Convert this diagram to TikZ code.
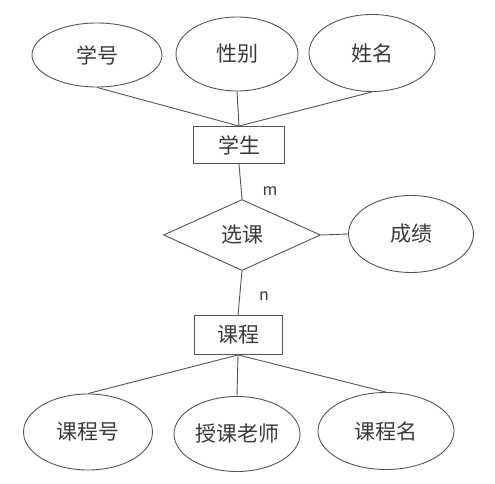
\documentclass[tikz,border=0pt]{standalone}
\usepackage{fontspec}
\newfontfamily\cjk{Noto Sans CJK SC}
\usetikzlibrary{shapes.geometric}
\definecolor{lc}{HTML}{555555}
\definecolor{tc}{HTML}{3A3A3A}
\tikzset{
  attr/.style={ellipse, draw=lc, line width=0.9pt, inner sep=0pt, text=tc, font=\cjk\fontsize{21}{21}\selectfont},
  ent/.style={rectangle, draw=lc, line width=0.9pt, inner sep=0pt, text=tc, font=\cjk\fontsize{21}{21}\selectfont},
  rel/.style={diamond, draw=lc, line width=0.9pt, inner sep=0pt, text=tc, font=\cjk\fontsize{21}{21}\selectfont},
  conn/.style={draw=lc, line width=0.9pt},
  card/.style={text=tc, font=\cjk\fontsize{16}{16}\selectfont, inner sep=0pt}
}
\begin{document}
\begin{tikzpicture}[x=1pt,y=-1pt]
\useasboundingbox[fill=white] (0,0) rectangle (495,484);
\node[attr, minimum width=130pt, minimum height=64pt] (xh) at (97,55) {学号};
\node[attr, minimum width=122pt, minimum height=74pt] (xb) at (237,54) {性别};
\node[attr, minimum width=126pt, minimum height=77pt] (xm) at (372,53) {姓名};
\node[ent, minimum width=91pt, minimum height=37pt] (xs) at (239,145) {学生};
\node[rel, minimum width=157pt, minimum height=71pt] (xk) at (242,235) {选课};
\node[attr, minimum width=125pt, minimum height=77pt] (cj) at (411,234) {成绩};
\node[ent, minimum width=88pt, minimum height=39pt] (kc) at (238,335) {课程};
\node[attr, minimum width=129pt, minimum height=76pt] (kch) at (88,432) {课程号};
\node[attr, minimum width=126pt, minimum height=75pt] (skls) at (237,434) {授课老师};
\node[attr, minimum width=136pt, minimum height=77pt] (kcm) at (386,431) {课程名};
\node[card] (m) at (270,191) {m};
\node[card] (n) at (264,296) {n};
\draw[conn] (xh.south) -- (xs.north);
\draw[conn] (xb.south) -- (xs.north);
\draw[conn] (xm.south) -- (xs.north);
\draw[conn] (xs.south) -- (xk.north);
\draw[conn] (xk.east) -- (cj.west);
\draw[conn] (xk.south) -- (kc.north);
\draw[conn] (kc.south) -- (kch.north);
\draw[conn] (kc.south) -- (skls.north);
\draw[conn] (kc.south) -- (kcm.north);
\end{tikzpicture}
\end{document}
